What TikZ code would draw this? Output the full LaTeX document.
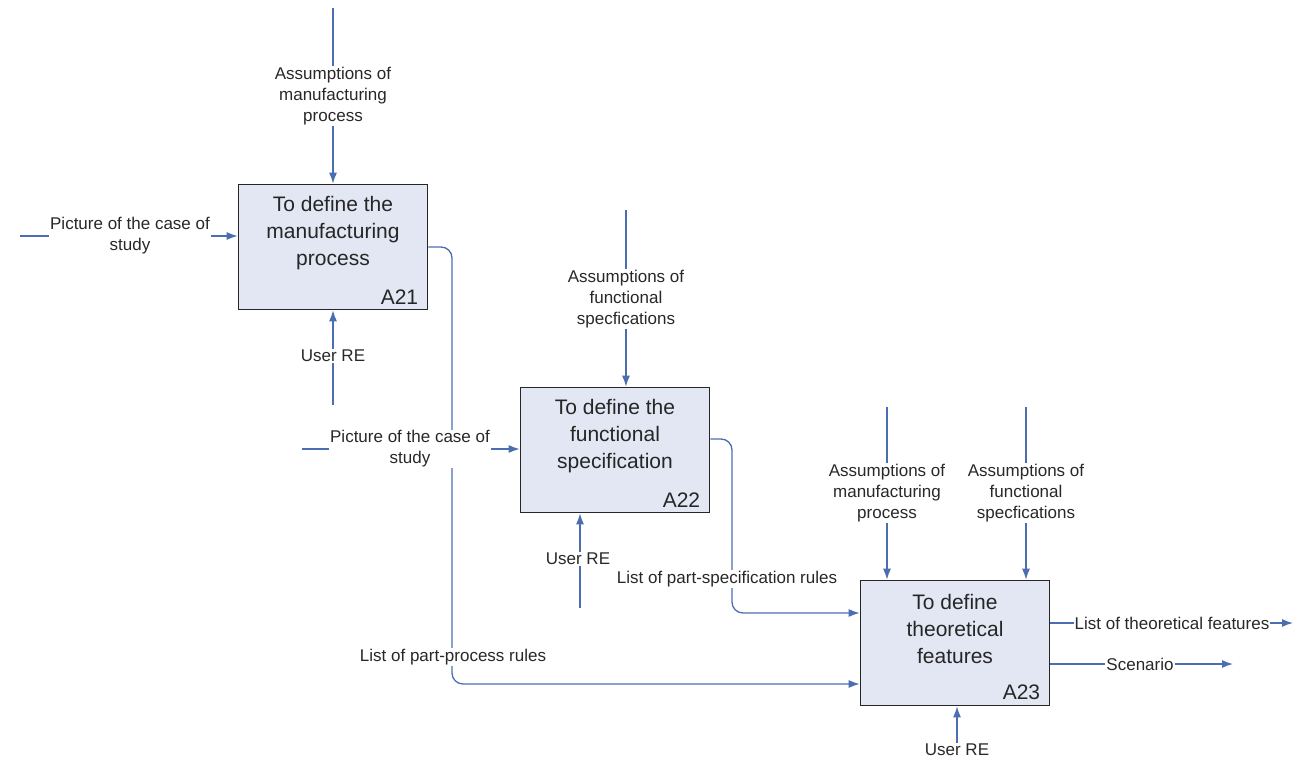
\documentclass[tikz,border=0pt]{standalone}
\usepackage{fontspec}
\setmainfont{Liberation Sans}
\usetikzlibrary{arrows.meta, positioning}
\definecolor{IdefBlue}{RGB}{74, 110, 176}
\definecolor{IdefFill}{RGB}{226, 231, 243}
\definecolor{IdefText}{RGB}{40, 40, 40}

\begin{document}
\begin{tikzpicture}[x=1pt, y=-1pt,
    activity/.style={draw=black!85, line width=1.7pt, fill=IdefFill, minimum width=189pt, minimum height=125pt, inner sep=0pt},
    title/.style={align=center, font=\fontsize{21}{27}\selectfont, text=black!85},
    boxcode/.style={anchor=south east, inner xsep=10pt, inner ysep=6pt, font=\fontsize{21}{27}\selectfont, text=black!85},
    flow/.style={-{Latex[length=11pt, width=8pt]}, line width=1.3pt, IdefBlue, rounded corners=11pt},
    lbl/.style={align=center, fill=white, inner sep=1pt, font=\fontsize{17}{21}\selectfont, text=IdefText}]
    \useasboundingbox (0,0) rectangle (1307,760);

    % activities
    \node[activity] (a21) at (333,247) {};
    \node[title] (a21t) at ([yshift=14pt]a21.center) {To define the\\manufacturing\\process};
    \node[boxcode] (a21c) at (a21.south east) {A21};

    \node[activity] (a22) at (615,450) {};
    \node[title] (a22t) at ([yshift=14pt]a22.center) {To define the\\functional\\specification};
    \node[boxcode] (a22c) at (a22.south east) {A22};

    \node[activity] (a23) at (955,643) {};
    \node[title] (a23t) at ([yshift=14pt]a23.center) {To define\\theoretical\\features};
    \node[boxcode] (a23c) at (a23.south east) {A23};

    % free ends
    \coordinate (a21ctl) at (333,8);
    \coordinate (a21in) at (20,236);
    \coordinate (a21mech) at (333,405);
    \coordinate (a21bend) at (452,684);
    \coordinate (a22ctl) at (626,210);
    \coordinate (a22in) at (302,449);
    \coordinate (a22mech) at (580,608);
    \coordinate (a22bend) at (732,613);
    \coordinate (a23ctla) at (887,407);
    \coordinate (a23ctlb) at (1026,407);
    \coordinate (a23outa) at (1293,623);
    \coordinate (a23outb) at (1233,664);

    % A21
    \draw[flow] (a21ctl) -- (a21.north);
    \draw[flow] (a21in) -- (a21in -| a21.west);
    \draw[flow] (a21mech) -- (a21.south);
    \draw[flow] (a21.east) -| (a21bend) -- (a21bend -| a23.west);

    % A22
    \draw[flow] (a22ctl) -- (a22ctl |- a22.north);
    \draw[flow] (a22in) -- (a22in -| a22.west);
    \draw[flow] (a22mech) -- (a22mech |- a22.south);
    \draw[flow] ([yshift=11pt]a22.east) -| (a22bend) -- (a22bend -| a23.west);

    % A23
    \draw[flow] (a23ctla) -- (a23ctla |- a23.north);
    \draw[flow] (a23ctlb) -- (a23ctlb |- a23.north);
    \draw[flow] (a23outa -| a23.east) -- (a23outa);
    \draw[flow] (a23outb -| a23.east) -- (a23outb);

    % labels
    \node[lbl] (l21ctl) at (333,96) {Assumptions of\\manufacturing\\process};
    \node[lbl] (l21in) at (130,236) {Picture of the case of\\study};
    \node[lbl] (l21mech) at (333,356) {User RE};
    \node[lbl] (l22ctl) at (626,299) {Assumptions of\\functional\\specfications};
    \node[lbl] (l22in) at (410,449) {Picture of the case of\\study};
    \node[lbl] (l22mech) at (578,559) {User RE};
    \node[lbl] (l23ctla) at (887,493) {Assumptions of\\manufacturing\\process};
    \node[lbl] (l23ctlb) at (1026,493) {Assumptions of\\functional\\specfications};
    \node[lbl] (l21out) at (453,657) {List of part-process rules};
    \node[lbl] (l22out) at (727,579) {List of part-specification rules};
    \node[lbl] (l23outa) at (1172,623) {List of theoretical features};
    \node[lbl] (l23outb) at (1140,664) {Scenario};
    \node[lbl] (l23mech) at (957,750) {User RE};
    \draw[flow] (l23mech) -- (l23mech |- a23.south);
\end{tikzpicture}
\end{document}
